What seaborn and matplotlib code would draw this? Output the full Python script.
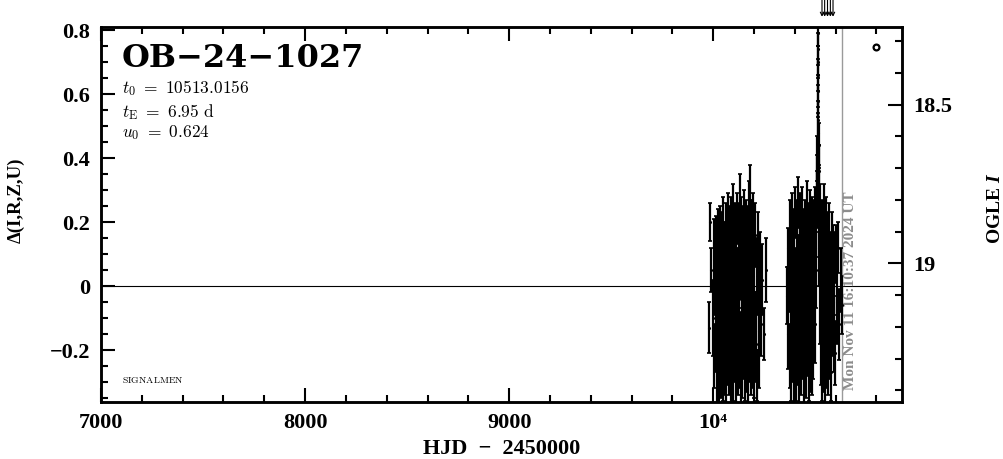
import numpy as np
import pandas as pd
import matplotlib
matplotlib.use("Agg")
import matplotlib.pyplot as plt
import seaborn as sns
from matplotlib.ticker import MultipleLocator, FixedLocator, FixedFormatter

# ---------------- data ----------------
s1_hjd = [9978, 9984, 9991, 9997, 10003, 10006, 10009, 10012, 10014, 10017, 10019, 10021,
          10023, 10025, 10027, 10029, 10031, 10033, 10035, 10037, 10039, 10041, 10043, 10045,
          10047, 10049, 10051, 10053, 10055, 10057, 10059, 10061, 10063, 10065, 10067, 10069,
          10071, 10073, 10075, 10077, 10079, 10081, 10083, 10085, 10087, 10089, 10091, 10093,
          10095, 10097, 10099, 10101, 10103, 10105, 10107, 10109, 10111, 10113, 10115, 10117,
          10119, 10121, 10123, 10125, 10127, 10129, 10131, 10133, 10135, 10137, 10139, 10141,
          10143, 10145, 10147, 10149, 10151, 10153, 10155, 10157, 10159, 10161, 10163, 10165,
          10167, 10169, 10171, 10173, 10175, 10177, 10179, 10181, 10183, 10185, 10187, 10189,
          10191, 10193, 10195, 10197, 10199, 10201, 10204, 10207, 10210, 10213, 10216, 10219,
          10222, 10226, 10230, 10235, 10241, 10250, 10260]
s1_dmag = [-0.13, 0.20, 0.05, -0.10, 0.08, -0.22, 0.02, -0.15, 0.12, -0.28, -0.05, 0.15,
           -0.18, 0.04, -0.30, 0.10, -0.08, 0.18, -0.20, 0.00, -0.25, 0.13, -0.12, 0.06,
           -0.27, 0.20, -0.03, -0.17, 0.09, -0.22, 0.03, 0.17, -0.10, -0.29, 0.11, -0.06,
           0.22, -0.19, 0.01, -0.24, 0.14, -0.09, 0.07, -0.31, 0.19, -0.14, 0.05, -0.21,
           0.24, -0.02, -0.26, 0.10, -0.11, 0.16, -0.18, 0.03, -0.28, 0.12, -0.07, 0.21,
           -0.16, 0.00, -0.23, 0.15, -0.04, 0.26, -0.20, 0.08, -0.30, 0.18, -0.12, 0.04,
           -0.25, 0.13, -0.08, 0.20, -0.17, 0.02, -0.27, 0.11, -0.05, 0.17, -0.22, 0.06,
           -0.13, 0.14, -0.29, 0.23, -0.09, 0.09, -0.19, 0.27, -0.03, -0.24, 0.15, -0.11,
           0.05, -0.21, 0.19, -0.06, -0.26, 0.10, -0.14, 0.16, -0.18, 0.03, -0.28, 0.12,
           -0.08, -0.20, 0.05, -0.12, 0.02, -0.15, 0.05]
s1_err = [0.08, 0.06, 0.07, 0.12, 0.13, 0.10, 0.11, 0.12, 0.10, 0.09, 0.12, 0.09,
          0.11, 0.13, 0.08, 0.12, 0.10, 0.07, 0.12, 0.11, 0.10, 0.10, 0.12, 0.12,
          0.09, 0.08, 0.12, 0.10, 0.11, 0.12, 0.10, 0.09, 0.12, 0.08, 0.12, 0.11,
          0.07, 0.12, 0.12, 0.10, 0.11, 0.12, 0.10, 0.07, 0.09, 0.12, 0.12, 0.11,
          0.08, 0.12, 0.10, 0.12, 0.11, 0.10, 0.12, 0.11, 0.09, 0.12, 0.12, 0.08,
          0.11, 0.12, 0.11, 0.11, 0.12, 0.09, 0.12, 0.12, 0.08, 0.10, 0.12, 0.11,
          0.10, 0.12, 0.11, 0.10, 0.12, 0.12, 0.09, 0.11, 0.12, 0.10, 0.11, 0.12,
          0.12, 0.11, 0.08, 0.10, 0.12, 0.12, 0.11, 0.11, 0.12, 0.10, 0.12, 0.12,
          0.11, 0.11, 0.10, 0.12, 0.09, 0.12, 0.12, 0.10, 0.12, 0.12, 0.08, 0.11,
          0.12, 0.12, 0.12, 0.10, 0.11, 0.08, 0.10]

s2_hjd = [10361, 10364, 10368, 10371, 10374, 10377, 10379, 10381, 10383, 10385, 10387, 10389,
          10391, 10393, 10395, 10397, 10399, 10401, 10403, 10405, 10407, 10409, 10411, 10413,
          10415, 10417, 10419, 10421, 10423, 10425, 10427, 10429, 10431, 10433, 10435, 10437,
          10439, 10441, 10443, 10445, 10447, 10449, 10451, 10453, 10455, 10457, 10459, 10461,
          10463, 10465, 10467, 10469, 10471, 10473, 10475, 10477, 10479, 10481, 10483, 10485,
          10487, 10489, 10491, 10493, 10495, 10497, 10499, 10501, 10503, 10505, 10507, 10509,
          10510, 10511, 10512, 10512.6, 10513.0, 10513.3, 10513.8, 10514.4, 10515, 10516, 10517,
          10518, 10519, 10521, 10523, 10525, 10527, 10529, 10531, 10533, 10535, 10537, 10539,
          10541, 10543, 10545, 10547, 10549, 10551, 10553, 10555, 10557, 10559, 10561, 10563,
          10566, 10569, 10572, 10575, 10578, 10581, 10584, 10587, 10590, 10594, 10598, 10603,
          10608, 10613, 10618, 10624, 10630]
s2_dmag = [-0.03, 0.12, -0.15, 0.04, -0.22, 0.18, -0.08, 0.09, -0.27, 0.02, 0.21, -0.18,
           -0.05, 0.14, -0.30, 0.07, -0.12, 0.23, -0.21, 0.00, -0.26, 0.16, -0.09, 0.05,
           -0.19, 0.26, -0.02, -0.28, 0.11, -0.14, 0.19, -0.06, -0.23, 0.08, -0.11, 0.22,
           -0.17, 0.03, -0.29, 0.13, -0.07, 0.17, -0.20, 0.01, -0.25, 0.10, -0.10, 0.24,
           -0.16, 0.06, -0.27, 0.15, -0.04, 0.20, -0.21, 0.04, -0.13, 0.12, -0.24, 0.18,
           -0.08, 0.07, -0.18, 0.16, -0.02, 0.21, -0.12, 0.10, 0.19, 0.05, 0.27, 0.33,
           0.40, 0.48, 0.58, 0.66, 0.74, 0.79, 0.70, 0.61, 0.52, 0.44, 0.36,
           0.29, 0.12, 0.22, -0.06, 0.14, -0.19, 0.08, -0.26, 0.17, -0.09, 0.03, -0.22,
           0.13, -0.15, 0.23, -0.04, -0.28, 0.09, -0.12, 0.18, -0.20, 0.02, -0.24, 0.11,
           -0.07, 0.15, -0.17, 0.05, -0.27, 0.12, -0.10, 0.08, -0.15, 0.04, -0.21, 0.10,
           -0.05, 0.12, -0.12, 0.02, -0.06]
s2_err = [0.09, 0.06, 0.11, 0.12, 0.10, 0.09, 0.12, 0.12, 0.09, 0.11, 0.08, 0.12,
          0.12, 0.10, 0.07, 0.12, 0.11, 0.08, 0.12, 0.12, 0.10, 0.11, 0.12, 0.11,
          0.12, 0.08, 0.12, 0.09, 0.12, 0.12, 0.10, 0.12, 0.11, 0.12, 0.11, 0.09,
          0.12, 0.12, 0.08, 0.11, 0.12, 0.10, 0.12, 0.12, 0.10, 0.12, 0.12, 0.09,
          0.12, 0.11, 0.09, 0.11, 0.12, 0.10, 0.12, 0.12, 0.11, 0.12, 0.10, 0.10,
          0.12, 0.12, 0.11, 0.11, 0.12, 0.10, 0.12, 0.12, 0.10, 0.12, 0.09, 0.08,
          0.07, 0.06, 0.05, 0.05, 0.05, 0.04, 0.05, 0.05, 0.06, 0.07, 0.08,
          0.09, 0.12, 0.10, 0.12, 0.11, 0.12, 0.12, 0.10, 0.10, 0.12, 0.12, 0.11,
          0.12, 0.12, 0.09, 0.12, 0.09, 0.12, 0.12, 0.10, 0.12, 0.12, 0.10, 0.12,
          0.12, 0.11, 0.12, 0.12, 0.09, 0.11, 0.12, 0.11, 0.12, 0.13, 0.10, 0.09,
          0.13, 0.08, 0.11, 0.10, 0.09]

offscale_hjd = [10533, 10546, 10560, 10574, 10587]   # points above the plotted range
extra_hjd = [10799]
extra_dmag = [0.747]
now_hjd = 10632
now_label = "Mon Nov 11 16:10:37 2024 UT"

x_ticks = [7000, 8000, 9000, 10000]
x_tick_labels = ["7000", "8000", "9000", "10\u2074"]
y_ticks = [-0.2, 0.0, 0.2, 0.4, 0.6, 0.8]
y_tick_labels = ["\u22120.2", "0", "0.2", "0.4", "0.6", "0.8"]
i_ticks = [18.5, 19.0]
i_tick_labels = ["18.5", "19"]

event_name = "OB\u221224\u22121027"
t0_text = r"$t_0\ =\ 10513.0156$"
te_text = r"$t_{\rm E}\ =\ 6.95\ {\rm d}$"
u0_text = r"$u_0\ =\ 0.624$"

# ---------------- plotting ----------------
sns.set_theme(style="ticks")
plt.rcParams["font.family"] = ["Liberation Serif", "DejaVu Serif"]
plt.rcParams["mathtext.fontset"] = "custom"
plt.rcParams["mathtext.rm"] = "Liberation Serif:bold"
plt.rcParams["mathtext.it"] = "Liberation Serif:italic:bold"
plt.rcParams["axes.unicode_minus"] = True
for key in ["text.color", "axes.labelcolor", "xtick.color", "ytick.color",
            "axes.edgecolor"]:
    plt.rcParams[key] = "black"

df = pd.DataFrame({
    "hjd": s1_hjd + s2_hjd,
    "dmag": s1_dmag + s2_dmag,
    "err": s1_err + s2_err,
})

fig = plt.figure(figsize=(10.04, 4.59), dpi=100)
ax = fig.add_axes([0.1006, 0.1242, 0.7978, 0.817])

ax.errorbar(df["hjd"], df["dmag"], yerr=df["err"], fmt="none", ecolor="black",
            elinewidth=1.6, capsize=1.5, capthick=1.2, zorder=3)
sns.scatterplot(data=df, x="hjd", y="dmag", ax=ax, color="black", s=5,
                edgecolor=None, linewidth=0, zorder=4, legend=False)

ax.axhline(0, color="black", lw=0.8, zorder=2)
ax.axvline(now_hjd, color="#9a9a9a", lw=1.0, zorder=2)
ax.plot(extra_hjd, extra_dmag, marker="o", ls="none", mfc="white", mec="black",
        ms=4.2, mew=1.6, zorder=5)

ax.set_xlim(7000, 10925)
ax.set_ylim(-0.3625, 0.81)

for h in offscale_hjd:
    ax.annotate("", xy=(h, 0.842), xytext=(h, 0.897), xycoords="data",
                arrowprops=dict(arrowstyle="->", lw=0.8, color="black",
                                shrinkA=0, shrinkB=0, mutation_scale=6),
                annotation_clip=False)

ax.xaxis.set_major_locator(FixedLocator(x_ticks))
ax.xaxis.set_major_formatter(FixedFormatter(x_tick_labels))
ax.xaxis.set_minor_locator(MultipleLocator(200))
ax.yaxis.set_major_locator(FixedLocator(y_ticks))
ax.yaxis.set_major_formatter(FixedFormatter(y_tick_labels))
ax.yaxis.set_minor_locator(MultipleLocator(0.05))

for sp in ax.spines.values():
    sp.set_linewidth(1.8)
    sp.set_color("black")

ax.tick_params(axis="both", which="both", direction="in", color="black",
               labelcolor="black", top=True, bottom=True, left=True, right=False)
ax.tick_params(axis="both", which="major", length=10, width=1.5, labelsize=16, pad=8)
ax.tick_params(axis="both", which="minor", length=5, width=1.5)
for lbl in ax.get_xticklabels() + ax.get_yticklabels():
    lbl.set_fontweight("bold")

ax.set_xlabel("HJD  \u2212  2450000", fontsize=16, fontweight="bold", color="black")
ax.xaxis.set_label_coords(0.5006, -0.098)
ax.set_ylabel("\u0394(I,R,Z,U)", fontsize=13.5, fontweight="bold", color="black")
ax.yaxis.set_label_coords(-0.095, 0.539)

ax2 = ax.twinx()
ax2.set_ylim(19.437, 18.255)
ax2.yaxis.set_major_locator(FixedLocator(i_ticks))
ax2.yaxis.set_major_formatter(FixedFormatter(i_tick_labels))
ax2.yaxis.set_minor_locator(MultipleLocator(0.1))
ax2.tick_params(axis="y", which="both", direction="in", color="black",
                labelcolor="black", left=False, right=True)
ax2.tick_params(axis="y", which="major", length=10, width=1.5, labelsize=16, pad=8)
ax2.tick_params(axis="y", which="minor", length=5, width=1.5)
for lbl in ax2.get_yticklabels():
    lbl.set_fontweight("bold")
for sp in ax2.spines.values():
    sp.set_linewidth(1.8)
    sp.set_color("black")
ax2.set_ylabel("OGLE $I$", fontsize=14, fontweight="bold", color="black")
ax2.yaxis.set_label_coords(1.106, 0.517)

ax.text(0.026, 0.957, event_name, transform=ax.transAxes, family="DejaVu Serif",
        fontweight="bold", fontsize=23, va="top", ha="left", color="black")
for txt, yy in [(t0_text, 0.837), (te_text, 0.773), (u0_text, 0.718)]:
    ax.text(0.026, yy, txt, transform=ax.transAxes, fontsize=12.5, va="center",
            ha="left", math_fontfamily="cm", color="black")
ax.text(7103, -0.294, r"$\mathrm{SIGNALMEN}$", fontsize=7, va="center",
        ha="left", math_fontfamily="cm", color="black")
ax.text(10675, -0.325, now_label, rotation=90, color="#8c8c8c", fontweight="bold",
        fontsize=11, ha="center", va="bottom", family="Liberation Serif")

fig.savefig("out.png", dpi=100)
